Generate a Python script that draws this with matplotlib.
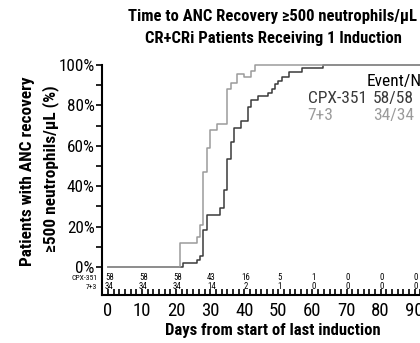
import matplotlib
matplotlib.use("Agg")
import matplotlib.pyplot as plt
from matplotlib import font_manager
from matplotlib.ticker import MultipleLocator, FixedLocator

# ---------------- data ----------------
cpx_days = [0, 22, 26, 27, 28, 29, 33, 34, 35, 36, 37, 39, 41, 42, 44, 47, 48, 49, 50, 51, 53, 57, 63]
cpx_pct = [0, 1.7, 3.4, 5.2, 18.3, 25.9, 29.3, 37.9, 53.4, 62.1, 69.0, 72.4, 79.3, 82.8, 84.5, 86.2,
           87.9, 90.5, 92.2, 94.0, 96.6, 98.3, 100]
std_days = [0, 21, 26, 27, 28, 29, 30, 32, 35, 36, 38, 40, 42, 43]
std_pct = [0, 11.8, 14.7, 20.6, 47.1, 58.8, 67.6, 70.6, 88.2, 91.2, 95.4, 93.9, 97.1, 100]

risk_days = [0, 10, 20, 30, 40, 50, 60, 70, 80, 90]
risk_cpx = [58, 58, 58, 43, 16, 5, 1, 0, 0, 0]
risk_std = [34, 34, 34, 14, 2, 1, 0, 0, 0, 0]

y_ticks = [0, 20, 40, 60, 80, 100]
y_ticklabels = ["0%", "20%", "40%", "60%", "80%", "100%"]
x_ticks = [0, 10, 20, 30, 40, 50, 60, 70, 80, 90]

groups = ["CPX-351", "7+3"]
events = ["58/58", "34/34"]

title_lines = ["Time to ANC Recovery \u2265500 neutrophils/\u00b5L",
               "CR+CRi Patients Receiving 1 Induction"]
ylabel_lines = ["Patients with ANC recovery", "\u2265500 neutrophils/\u00b5L (%)"]
xlabel = "Days from start of last induction"

# ---------------- style ----------------
names = {f.name for f in font_manager.fontManager.ttflist}
prefs = ["Roboto Condensed", "Archivo Narrow", "PT Sans Narrow", "Barlow Semi Condensed", "Asap Condensed"]
fams = [p for p in prefs if p in names] + ["DejaVu Sans"]
plt.rcParams["font.family"] = fams

DARK = "#3a3a3a"
LIGHT = "#9b9b9b"

XMIN, XMAX = -1.6, 97
YMIN, YMAX = -13.9, 100

fig = plt.figure(figsize=(4.2, 3.43), dpi=100)
ax = fig.add_axes([0.244, 0.140, (438.6 - 102.5) / 420 * (XMAX - XMIN) / 98.6, 0.8105 - 0.140])

def extend(days, pct):
    return list(days) + [XMAX], list(pct) + [pct[-1]]

x, y = extend(cpx_days, cpx_pct)
ax.step(x, y, where="post", color=DARK, lw=1.1, clip_on=False, zorder=3)
x, y = extend(std_days, std_pct)
ax.step(x, y, where="post", color=LIGHT, lw=1.1, clip_on=False, zorder=4)

ax.set_xlim(XMIN, XMAX)
ax.set_ylim(YMIN, YMAX)

for s in ["top", "right"]:
    ax.spines[s].set_visible(False)
ax.spines["left"].set_linewidth(1.5)
ax.spines["bottom"].set_linewidth(1.5)

ax.yaxis.set_major_locator(FixedLocator(y_ticks))
ax.set_yticklabels(y_ticklabels)
ax.yaxis.set_minor_locator(FixedLocator([10, 30, 50, 70, 90]))
ax.tick_params(axis="y", which="both", direction="out", length=4.5, width=1.2, pad=1, labelsize=12.3)

ax.xaxis.set_major_locator(FixedLocator(x_ticks))
ax.xaxis.set_minor_locator(MultipleLocator(10 / 6))
ax.tick_params(axis="x", which="both", direction="in", length=4, width=1.2, pad=5, labelsize=13.5)

# number at risk
for d, a, b in zip(risk_days, risk_cpx, risk_std):
    ax.text(d + 0.4, -5.0, str(a), ha="center", va="center", fontsize=6.3, color="black")
    ax.text(d + 0.4, -9.8, str(b), ha="center", va="center", fontsize=6.3, color="black")
ax.text(XMIN - 1.6, -5.3, groups[0], ha="right", va="center", fontsize=5.5, clip_on=False)
ax.text(XMIN - 1.6, -9.8, groups[1], ha="right", va="center", fontsize=5.5, clip_on=False)

# legend-like table
ax.text(75.8, 92, "Event/No.", ha="left", va="center", fontsize=12.5, color="black")
ax.text(58.6, 83.5, groups[0], ha="left", va="center", fontsize=12.5, color=DARK)
ax.text(77.8, 83.5, events[0], ha="left", va="center", fontsize=12.5, color=DARK)
ax.text(58.6, 74.8, groups[1], ha="left", va="center", fontsize=12.5, color=LIGHT)
ax.text(77.8, 74.8, events[1], ha="left", va="center", fontsize=12.5, color=LIGHT)

# titles and labels
fig.text(273 / 420, 1 - 17 / 343, title_lines[0], ha="center", va="center", fontsize=12, fontweight="bold")
fig.text(273 / 420, 1 - 38 / 343, title_lines[1], ha="center", va="center", fontsize=12, fontweight="bold")
fig.text(28 / 420, 1 - 171 / 343, ylabel_lines[0], ha="center", va="center", rotation=90, fontsize=12.4, fontweight="bold")
fig.text(51 / 420, 1 - 169 / 343, ylabel_lines[1], ha="center", va="center", rotation=90, fontsize=12.4, fontweight="bold")
fig.text(273 / 420, 1 - 330 / 343, xlabel, ha="center", va="center", fontsize=12, fontweight="bold")

fig.savefig("out.png", dpi=100)
